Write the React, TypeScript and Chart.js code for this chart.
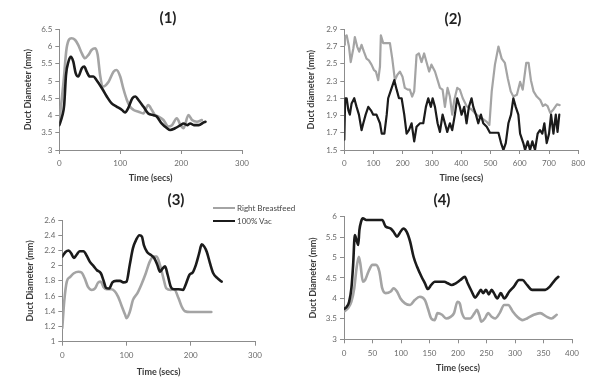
import React, { useEffect, useRef } from "react";
import { Chart, registerables } from "chart.js";

Chart.register(...registerables);

// ---------- data ----------
const SERIES_NAMES = ["Right Breastfeed", "100% Vac"];
const PANEL_TITLES = ["(1)", "(2)", "(3)", "(4)"];
const X_TITLE = "Time (secs)";
const Y_TITLES = ["Duct Diameter (mm)", "Duct diameter (mm)", "Duct Diameter (mm)", "Duct Diameter (mm)"];

// Panel 1
const p1BreastT = [0, 3, 7, 12, 20, 26, 31, 37, 42, 48, 53, 59, 63, 67, 72, 81, 89, 94, 100, 105, 111, 116, 122, 130, 138, 146, 152, 157, 163, 171, 179, 185, 193, 199, 204, 212, 218, 226, 234];
const p1BreastV = [3.85, 4.3, 4.98, 5.95, 6.24, 6.19, 6.05, 5.8, 5.66, 5.76, 5.9, 5.95, 5.76, 5.17, 4.84, 4.98, 5.27, 5.32, 5.13, 4.79, 4.45, 4.26, 4.16, 4.11, 4.06, 4.3, 4.16, 4.01, 3.97, 3.87, 3.68, 3.72, 3.92, 3.72, 3.63, 4.01, 3.87, 3.82, 3.87];
const p1VacT = [0, 5, 8, 11, 15, 19, 23, 27, 31, 37, 41, 45, 50, 56, 61, 70, 78, 86, 94, 103, 108, 113, 120, 125, 130, 138, 146, 155, 160, 168, 177, 182, 190, 199, 204, 210, 215, 221, 229, 237, 240];
const p1VacV = [3.72, 4.0, 4.3, 5.17, 5.56, 5.7, 5.56, 5.22, 5.13, 5.37, 5.42, 5.27, 5.13, 5.13, 5.03, 4.79, 4.55, 4.35, 4.26, 4.16, 4.09, 4.21, 4.5, 4.55, 4.45, 4.26, 4.06, 4.01, 3.97, 3.77, 3.63, 3.58, 3.63, 3.72, 3.77, 3.72, 3.77, 3.72, 3.72, 3.8, 3.82];

// Panel 2
const p2BreastT = [0, 2, 8, 16, 22, 31, 36, 44, 51, 59, 67, 76, 84, 93, 101, 108, 116, 122, 125, 133, 145, 156, 164, 173, 181, 190, 199, 207, 217, 224, 232, 239, 247, 255, 264, 273, 281, 290, 298, 310, 319, 327, 336, 344, 353, 361, 369, 376, 386, 395, 405, 418, 435, 452, 470, 486, 496, 504, 515, 527, 538, 549, 559, 569, 578, 590, 601, 610, 622, 630, 638, 647, 658, 670, 679, 687, 695, 704, 715, 727, 736];
const p2BreastV = [2.72, 2.81, 2.83, 2.7, 2.52, 2.68, 2.81, 2.7, 2.64, 2.72, 2.64, 2.56, 2.54, 2.49, 2.43, 2.41, 2.31, 2.47, 2.83, 2.74, 2.74, 2.74, 2.56, 2.31, 2.37, 2.41, 2.35, 2.22, 2.2, 2.2, 2.12, 2.18, 2.6, 2.62, 2.52, 2.62, 2.52, 2.41, 2.49, 2.41, 2.31, 2.22, 2.2, 2.0, 2.22, 2.12, 1.91, 2.08, 2.22, 2.2, 2.1, 2.01, 1.97, 1.91, 1.87, 1.83, 1.79, 2.18, 2.49, 2.7, 2.56, 2.51, 2.33, 2.18, 2.12, 2.14, 2.29, 2.2, 2.51, 2.51, 2.31, 2.18, 2.12, 2.08, 2.01, 2.03, 2.01, 1.93, 1.97, 2.03, 2.02];
const p2VacT = [0, 3, 8, 14, 19, 25, 34, 42, 50, 59, 65, 73, 82, 91, 99, 110, 122, 128, 137, 145, 150, 160, 171, 179, 187, 196, 205, 213, 221, 230, 239, 247, 259, 270, 279, 287, 296, 302, 310, 319, 327, 336, 344, 352, 361, 369, 378, 386, 395, 401, 410, 418, 426, 435, 441, 450, 458, 467, 475, 487, 498, 515, 527, 536, 544, 552, 561, 570, 578, 586, 595, 601, 612, 618, 627, 635, 643, 652, 661, 669, 677, 684, 692, 700, 707, 715, 723, 729, 735];
const p2VacV = [1.62, 2.1, 2.1, 1.96, 1.91, 2.04, 2.1, 2.0, 1.91, 1.73, 1.81, 1.91, 2.0, 1.96, 1.91, 1.91, 1.81, 1.69, 1.69, 1.91, 2.1, 2.2, 2.31, 2.2, 2.1, 2.1, 1.91, 1.69, 1.73, 1.81, 1.6, 1.77, 1.81, 1.81, 2.0, 2.1, 2.0, 2.1, 2.0, 1.81, 1.71, 1.91, 1.81, 1.71, 1.81, 1.73, 1.91, 2.1, 2.0, 1.91, 2.0, 1.81, 2.0, 2.1, 2.0, 1.91, 1.81, 1.91, 1.81, 1.77, 1.7, 1.7, 1.7, 1.58, 1.5, 1.58, 1.81, 1.91, 2.1, 2.0, 1.91, 1.69, 1.58, 1.5, 1.6, 1.5, 1.6, 1.5, 1.69, 1.73, 1.69, 1.81, 1.58, 1.69, 1.91, 1.69, 1.91, 1.71, 1.91];

// Panel 3
const p3BreastT = [0, 3, 7, 12, 18, 25, 30, 35, 40, 46, 51, 56, 60, 64, 69, 77, 82, 87, 92, 98, 100, 105, 110, 117, 123, 130, 136, 142, 147, 152, 157, 162, 169, 174, 181, 186, 191, 199, 214, 232];
const p3BreastV = [1.18, 1.53, 1.79, 1.85, 1.9, 1.92, 1.91, 1.83, 1.72, 1.68, 1.7, 1.78, 1.79, 1.72, 1.69, 1.69, 1.66, 1.59, 1.48, 1.35, 1.31, 1.39, 1.55, 1.64, 1.75, 1.9, 2.05, 2.12, 2.12, 2.01, 1.85, 1.7, 1.68, 1.69, 1.57, 1.46, 1.4, 1.39, 1.39, 1.39];
const p3VacT = [0, 5, 10, 14, 18, 22, 27, 33, 38, 43, 49, 54, 60, 64, 68, 73, 78, 84, 90, 95, 100, 105, 110, 115, 120, 124, 127, 132, 138, 143, 148, 152, 156, 160, 164, 169, 174, 181, 188, 192, 198, 203, 208, 213, 217, 221, 225, 230, 235, 241, 248];
const p3VacV = [2.12, 2.18, 2.2, 2.16, 2.1, 2.14, 2.19, 2.19, 2.13, 2.05, 1.99, 1.94, 1.9, 1.81, 1.71, 1.7, 1.78, 1.8, 1.8, 1.78, 1.79, 2.01, 2.23, 2.34, 2.4, 2.38, 2.27, 2.18, 2.14, 2.1, 2.01, 1.92, 1.96, 1.99, 1.88, 1.72, 1.69, 1.69, 1.68, 1.75, 1.88, 1.91, 2.01, 2.16, 2.28, 2.25, 2.18, 2.03, 1.9, 1.84, 1.79];

// Panel 4
const p4BreastT = [0, 7, 13, 18, 22, 26, 29, 33, 37, 43, 50, 56, 62, 67, 73, 82, 87, 93, 99, 107, 116, 124, 133, 142, 147, 153, 159, 164, 172, 179, 187, 193, 199, 203, 207, 213, 221, 229, 233, 237, 241, 247, 253, 259, 265, 273, 281, 288, 296, 304, 313, 321, 333, 344, 356, 364, 373];
const p4BreastV = [3.68, 3.76, 3.92, 4.25, 4.74, 5.02, 4.82, 4.41, 4.45, 4.66, 4.82, 4.82, 4.66, 4.25, 4.13, 4.17, 4.25, 4.17, 4.0, 3.88, 3.84, 3.96, 4.04, 3.96, 3.76, 3.51, 3.47, 3.64, 3.6, 3.51, 3.55, 3.64, 3.92, 3.88, 3.64, 3.51, 3.51, 3.64, 3.72, 3.6, 3.43, 3.51, 3.64, 3.55, 3.51, 3.64, 3.84, 3.84, 3.68, 3.55, 3.47, 3.51, 3.6, 3.64, 3.55, 3.51, 3.6];
const p4VacT = [0, 5, 9, 13, 16, 19, 22, 25, 27, 30, 33, 39, 47, 59, 67, 73, 82, 87, 93, 99, 104, 110, 116, 122, 128, 136, 142, 147, 153, 159, 167, 176, 182, 189, 196, 204, 212, 217, 224, 230, 236, 240, 244, 249, 254, 259, 263, 269, 275, 281, 290, 298, 307, 313, 321, 330, 341, 353, 361, 370, 376];
const p4VacV = [3.74, 3.8, 3.92, 4.25, 4.82, 5.55, 5.43, 5.31, 5.67, 5.88, 5.96, 5.92, 5.92, 5.92, 5.92, 5.76, 5.71, 5.63, 5.51, 5.63, 5.71, 5.63, 5.39, 5.02, 4.78, 4.53, 4.37, 4.23, 4.33, 4.41, 4.41, 4.41, 4.37, 4.33, 4.37, 4.45, 4.53, 4.37, 4.17, 4.02, 4.13, 4.21, 4.13, 4.21, 4.1, 4.21, 4.13, 4.0, 4.13, 4.0, 4.17, 4.29, 4.45, 4.45, 4.33, 4.21, 4.21, 4.21, 4.29, 4.45, 4.53];

// axis ranges [min, max, step]
const X_RANGES = [[0, 300, 100], [0, 800, 100], [0, 300, 100], [0, 400, 50]];
const Y_RANGES = [[3, 6.5, 0.5], [1.5, 2.9, 0.2], [1, 2.6, 0.2], [3, 6, 0.5]];

// ---------- styles ----------
const FONT = "Lato, 'Open Sans', sans-serif";
const GRAY = "#a4a4a4";
const BLACK = "#1b1b1b";
const AXIS = "#8c8c8c";
const TICK_TXT = "#6a6a6a";
const TITLE_TXT = "#222222";
const AXIS_TITLE_TXT = "#3a3a3a";

type Geo = {
  left: number; top: number; width: number; height: number;
  yW: number; rW: number; xH: number;
  tPadT: number; tPadB: number; xTitlePadB: number; yTitlePadT: number;
  smooth: boolean; lineW: number;
};

const GEOS: Geo[] = [
  { left: 0, top: 0, width: 336, height: 190, yW: 59.3, rW: 94, xH: 40, tPadT: 9, tPadB: 2.3, xTitlePadB: 6.6, yTitlePadT: 22.6, smooth: true, lineW: 2.6 },
  { left: 300, top: 0, width: 306, height: 190, yW: 44.3, rW: 27.7, xH: 40, tPadT: 10, tPadB: 1.3, xTitlePadB: 6.6, yTitlePadT: 5.6, smooth: false, lineW: 2.2 },
  { left: 0, top: 185, width: 352, height: 198, yW: 62.3, rW: 97, xH: 41.3, tPadT: 6, tPadB: 11, xTitlePadB: 5.6, yTitlePadT: 24.6, smooth: true, lineW: 2.6 },
  { left: 300, top: 185, width: 284, height: 198, yW: 44, rW: 6.3, xH: 43.7, tPadT: 6, tPadB: 7.7, xTitlePadB: 9.6, yTitlePadT: 7.6, smooth: true, lineW: 2.6 },
];

const SERIES: { t: number[]; v: number[] }[][] = [
  [{ t: p1BreastT, v: p1BreastV }, { t: p1VacT, v: p1VacV }],
  [{ t: p2BreastT, v: p2BreastV }, { t: p2VacT, v: p2VacV }],
  [{ t: p3BreastT, v: p3BreastV }, { t: p3VacT, v: p3VacV }],
  [{ t: p4BreastT, v: p4BreastV }, { t: p4VacT, v: p4VacV }],
];

function Panel({ idx }: { idx: number }) {
  const ref = useRef<HTMLCanvasElement | null>(null);
  const g = GEOS[idx];
  useEffect(() => {
    if (!ref.current) return;
    const [xMin, xMax, xStep] = X_RANGES[idx];
    const [yMin, yMax, yStep] = Y_RANGES[idx];
    const datasets = SERIES[idx].map((s, i) => ({
      label: SERIES_NAMES[i],
      data: s.t.map((t, k) => ({ x: t, y: s.v[k] })),
      borderColor: i === 0 ? GRAY : BLACK,
      backgroundColor: i === 0 ? GRAY : BLACK,
      borderWidth: g.lineW,
      pointRadius: 0,
      fill: false,
      tension: g.smooth ? 0.4 : 0,
      cubicInterpolationMode: g.smooth ? ("monotone" as const) : ("default" as const),
      borderJoinStyle: "round" as const,
      borderCapStyle: "round" as const,
      order: i === 0 ? 1 : 0,
      xAxisID: "x",
      yAxisID: "y",
    }));
    const tickFont = { family: FONT, size: 8 };
    const axTitleFont = { family: FONT, size: 9, weight: "bold" as const };
    const fmt = (v: any) => String(Math.round(Number(v) * 100) / 100);
    const chart = new Chart(ref.current, {
      type: "line",
      data: { datasets },
      options: {
        responsive: false,
        animation: false,
        events: [],
        layout: { padding: 0 },
        plugins: {
          legend: { display: false },
          tooltip: { enabled: false },
          title: {
            display: true,
            text: PANEL_TITLES[idx],
            color: TITLE_TXT,
            font: { family: FONT, size: 15, weight: "bold" },
            padding: { top: g.tPadT, bottom: g.tPadB },
          },
        },
        scales: {
          x: {
            type: "linear",
            min: xMin,
            max: xMax,
            ticks: { stepSize: xStep, font: tickFont, color: TICK_TXT, padding: 5, maxRotation: 0, autoSkip: false, callback: fmt },
            grid: { display: true, drawOnChartArea: false, drawTicks: true, tickLength: 4, color: AXIS },
            border: { display: true, color: AXIS, width: 1 },
            title: { display: true, text: X_TITLE, color: AXIS_TITLE_TXT, font: axTitleFont, padding: { top: 0, bottom: g.xTitlePadB } },
            afterFit: (s: any) => { s.height = g.xH; },
          },
          y: {
            type: "linear",
            position: "left",
            min: yMin,
            max: yMax,
            ticks: { stepSize: yStep, font: tickFont, color: TICK_TXT, padding: 3, autoSkip: false, callback: fmt },
            grid: { display: true, drawOnChartArea: false, drawTicks: true, tickLength: 4, color: AXIS },
            border: { display: true, color: AXIS, width: 1 },
            title: { display: true, text: Y_TITLES[idx], color: AXIS_TITLE_TXT, font: axTitleFont, padding: { top: g.yTitlePadT, bottom: 0 } },
            afterFit: (s: any) => { s.width = g.yW; },
          },
          pad: {
            type: "linear",
            position: "right",
            display: true,
            ticks: { display: false },
            grid: { display: false },
            border: { display: false },
            afterFit: (s: any) => { s.width = g.rW; },
          },
        },
      } as any,
    });
    return () => chart.destroy();
  }, [idx]);
  return (
    <canvas
      ref={ref}
      width={g.width}
      height={g.height}
      style={{ position: "absolute", left: g.left, top: g.top, width: g.width, height: g.height, display: "block" }}
    />
  );
}

function Legend() {
  const rows = [
    { name: SERIES_NAMES[0], color: GRAY, cy: 208 },
    { name: SERIES_NAMES[1], color: BLACK, cy: 221 },
  ];
  return (
    <div style={{ position: "absolute", left: 0, top: 0, zIndex: 5 }}>
      {rows.map((r) => (
        <div
          key={r.name}
          style={{ position: "absolute", left: 213, top: r.cy - 6, height: 12, display: "flex", alignItems: "center", whiteSpace: "nowrap" }}
        >
          <span style={{ display: "inline-block", width: 22, height: 2.6, background: r.color }} />
          <span style={{ marginLeft: 2, fontFamily: FONT, fontSize: 8, lineHeight: "12px", color: "#444" }}>{r.name}</span>
        </div>
      ))}
    </div>
  );
}

export default function App() {
  return (
    <div style={{ position: "fixed", left: 0, top: 0, width: 592, height: 383, overflow: "hidden", background: "#ffffff" }}>
      <Panel idx={0} />
      <Panel idx={1} />
      <Panel idx={2} />
      <Panel idx={3} />
      <Legend />
    </div>
  );
}
